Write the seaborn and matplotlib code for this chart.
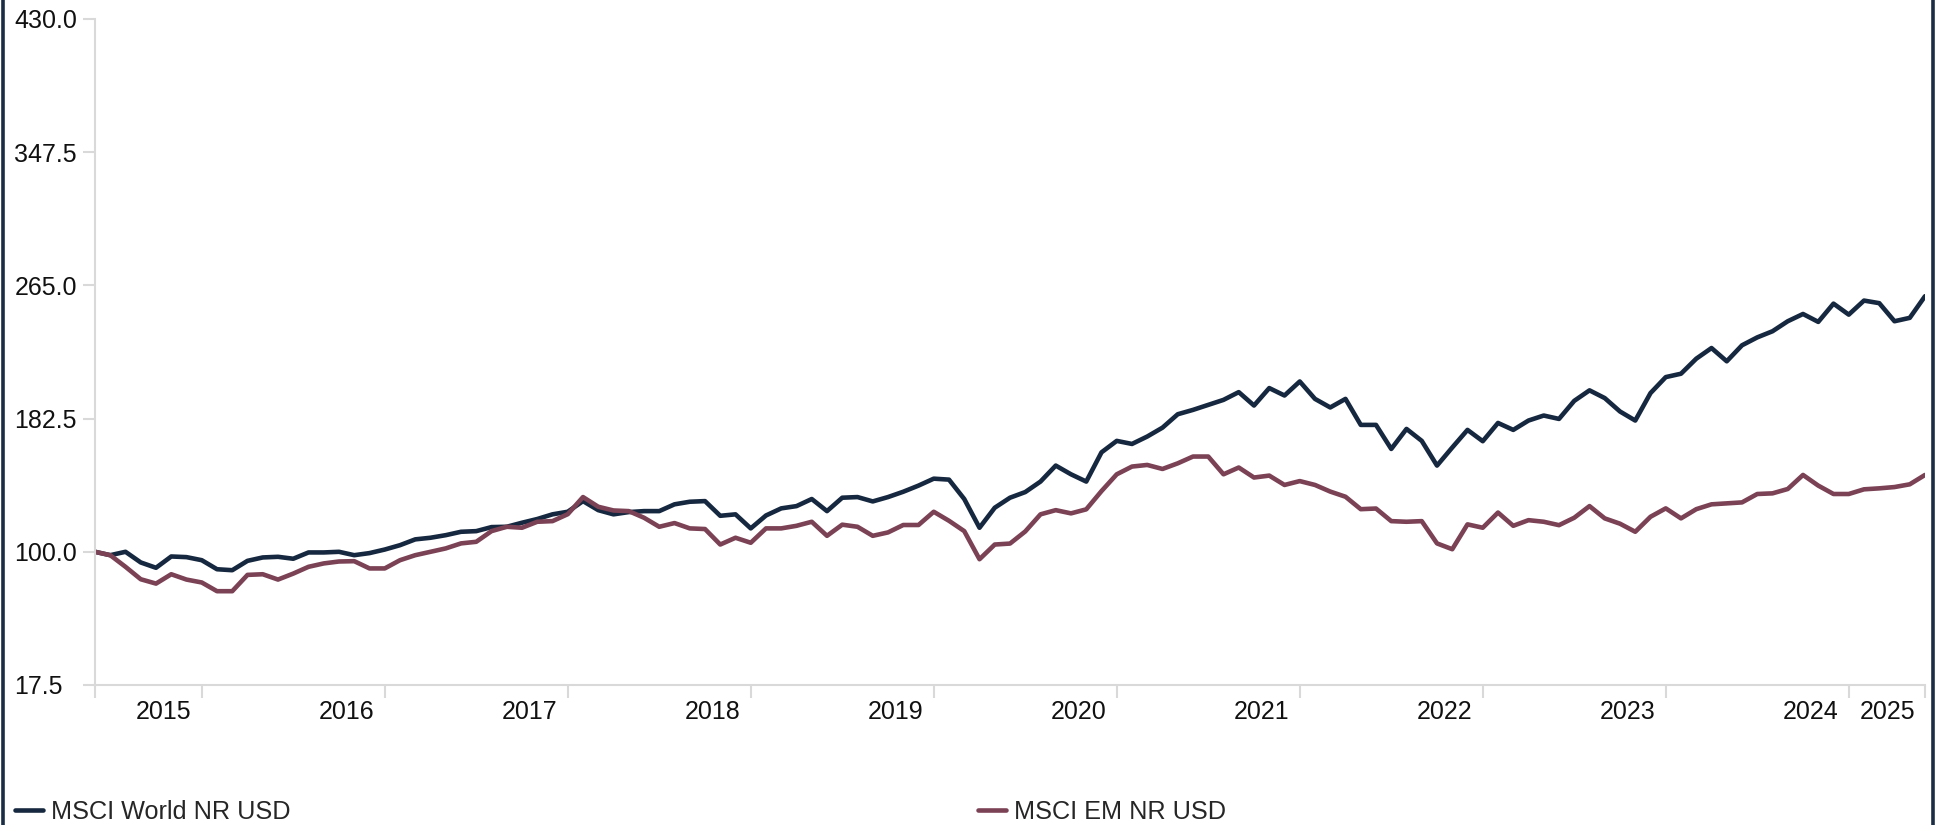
import matplotlib
matplotlib.use('Agg')
import matplotlib.pyplot as plt
from matplotlib.lines import Line2D
import seaborn as sns
import pandas as pd
import numpy as np

# month-end dates, May 2015 .. May 2025 (index rebased to 100)
months = pd.date_range('2015-05-31', periods=121, freq='ME')

world = [100, 97.9, 100, 93.4, 90.1, 97.1, 96.7, 94.8, 89.2, 88.6,
         94.4, 96.5, 96.9, 95.7, 99.6, 99.6, 100, 97.9, 99.2, 101.4,
         104.1, 107.7, 108.7, 110.3, 112.4, 112.8, 115.3, 115.5, 118, 120.3,
         123.2, 124.8, 131.4, 125.8, 123.2, 124.6, 125.2, 125.2, 129.4, 131,
         131.4, 122.3, 123.2, 114.5, 122.5, 126.9, 128.3, 132.7, 125.2, 133.5,
         133.9, 131.2, 133.9, 137.2, 141, 145.3, 144.7, 132.7, 114.9, 127.3,
         133.5, 137, 143.5, 153.4, 148, 143.5, 161.6, 168.7, 166.8, 171.4,
         176.9, 185.2, 187.9, 191, 194.1, 198.9, 190.6, 201.4, 196.8, 205.5,
         194.7, 189.4, 194.7, 178.6, 178.6, 163.7, 176.1, 168.7, 153.4, 164.6,
         175.5, 168.5, 179.8, 175.5, 181.3, 184.4, 182.3, 193.5, 200, 195.2,
         186.9, 181.3, 198.3, 208.2, 210.3, 219.6, 226.2, 218, 227.9, 232.8,
         236.6, 242.8, 247.3, 242.4, 253.7, 246.9, 255.6, 254, 242.8, 244.9,
         258.3]

em = [100, 97.9, 90.7, 83, 80.3, 86.1, 82.8, 81, 75.6, 75.6,
      85.7, 86.1, 82.8, 86.5, 90.7, 92.8, 94, 94.2, 89.7, 89.7,
      94.8, 97.9, 100, 102.1, 105.2, 106.2, 112.8, 115.5, 114.9, 118.6,
      119, 123.3, 133.9, 127.9, 125.6, 125.2, 121.1, 115.5, 117.8, 114.5,
      114.1, 104.5, 108.7, 105.6, 114.5, 114.5, 116.1, 118.6, 109.9, 116.8,
      115.5, 109.9, 112, 116.6, 116.6, 124.8, 119.2, 112.8, 95.4, 104.5,
      105.1, 112.6, 123.2, 125.8, 123.8, 126.3, 137.6, 148, 152.8, 153.8,
      151.3, 154.8, 159, 159, 148, 152.2, 146, 147.2, 141.4, 143.8,
      141.4, 137.3, 134.1, 126.4, 126.8, 119, 118.6, 119, 105.2, 101.6,
      117, 114.9, 124.3, 116.1, 119.6, 118.6, 116.5, 121.1, 128.3, 120.7,
      117.4, 112.4, 121.7, 126.9, 120.7, 126.4, 129.4, 130, 130.6, 135.8,
      136.2, 138.9, 147.6, 141, 135.8, 135.8, 138.7, 139.3, 140.1, 141.8,
      147.6]

series_names = ['MSCI World NR USD', 'MSCI EM NR USD']
colors = ['#16283f', '#7b4154']
y_ticks = [17.5, 100.0, 182.5, 265.0, 347.5, 430.0]
year_labels = ['2015', '2016', '2017', '2018', '2019', '2020',
               '2021', '2022', '2023', '2024', '2025']

df = pd.DataFrame({
    'idx': np.tile(np.arange(len(months)), 2),
    'value': world + em,
    'series': np.repeat(series_names, len(months)),
})

sns.set_style('white')
plt.rcParams['font.family'] = ['Liberation Sans', 'DejaVu Sans']

fig = plt.figure(figsize=(19.41, 8.25), dpi=100)
ax = fig.add_axes([95 / 1941, 1 - 685 / 825, 1830 / 1941, 666 / 825])

sns.lineplot(data=df, x='idx', y='value', hue='series',
             palette=dict(zip(series_names, colors)), linewidth=3.3,
             legend=False, ax=ax)

ax.set_xlim(0, len(months) - 1)
ax.set_ylim(17.5, 430)
ax.set_xlabel('')
ax.set_ylabel('')

grey = '#d9d9d9'
for side in ['top', 'right']:
    ax.spines[side].set_visible(False)
for side in ['left', 'bottom']:
    ax.spines[side].set_color(grey)
    ax.spines[side].set_linewidth(1.5)

# year-end ticks (last month of each year) plus both ends
year_end = [i for i in range(len(months) - 1) if months[i].month == 12]
x_ticks = [0] + year_end + [len(months) - 1]
ax.set_xticks(x_ticks)
ax.set_xticklabels([])
ax.tick_params(axis='x', length=9, width=1.5, color=grey, direction='out', bottom=True)

# labels sit just left of the closing tick of each year
for lab, pos in zip(year_labels, year_end + [len(months) - 1]):
    ax.text(pos - 0.65, -0.022, lab, transform=ax.get_xaxis_transform(),
            ha='right', va='top', fontsize=18, color='#111111')

ax.set_yticks(y_ticks)
ax.set_yticklabels([f'{v:.1f}' for v in y_ticks], fontsize=18, color='#111111')
for t in ax.get_yticklabels():
    t.set_horizontalalignment('left')
ax.tick_params(axis='y', length=9, width=1.5, color=grey, direction='out', left=True, pad=49)

# legend entries at the bottom
for name, col, xpos in zip(series_names, colors, [15 / 1941, 978 / 1941]):
    h = Line2D([], [], color=col, linewidth=3.3)
    fig.legend([h], [name], loc='center left', bbox_to_anchor=(xpos, 1 - 812 / 825),
               frameon=False, fontsize=18.2, handlelength=1.1, handletextpad=0.32,
               borderpad=0, borderaxespad=0)

# frame lines at left and right edges
fig.add_artist(Line2D([3 / 1941, 3 / 1941], [0, 1], color='#1b2c45', linewidth=2.6,
                      transform=fig.transFigure))
fig.add_artist(Line2D([1933 / 1941, 1933 / 1941], [0, 1], color='#1b2c45', linewidth=2.6,
                      transform=fig.transFigure))

fig.savefig('out.png', dpi=100)
